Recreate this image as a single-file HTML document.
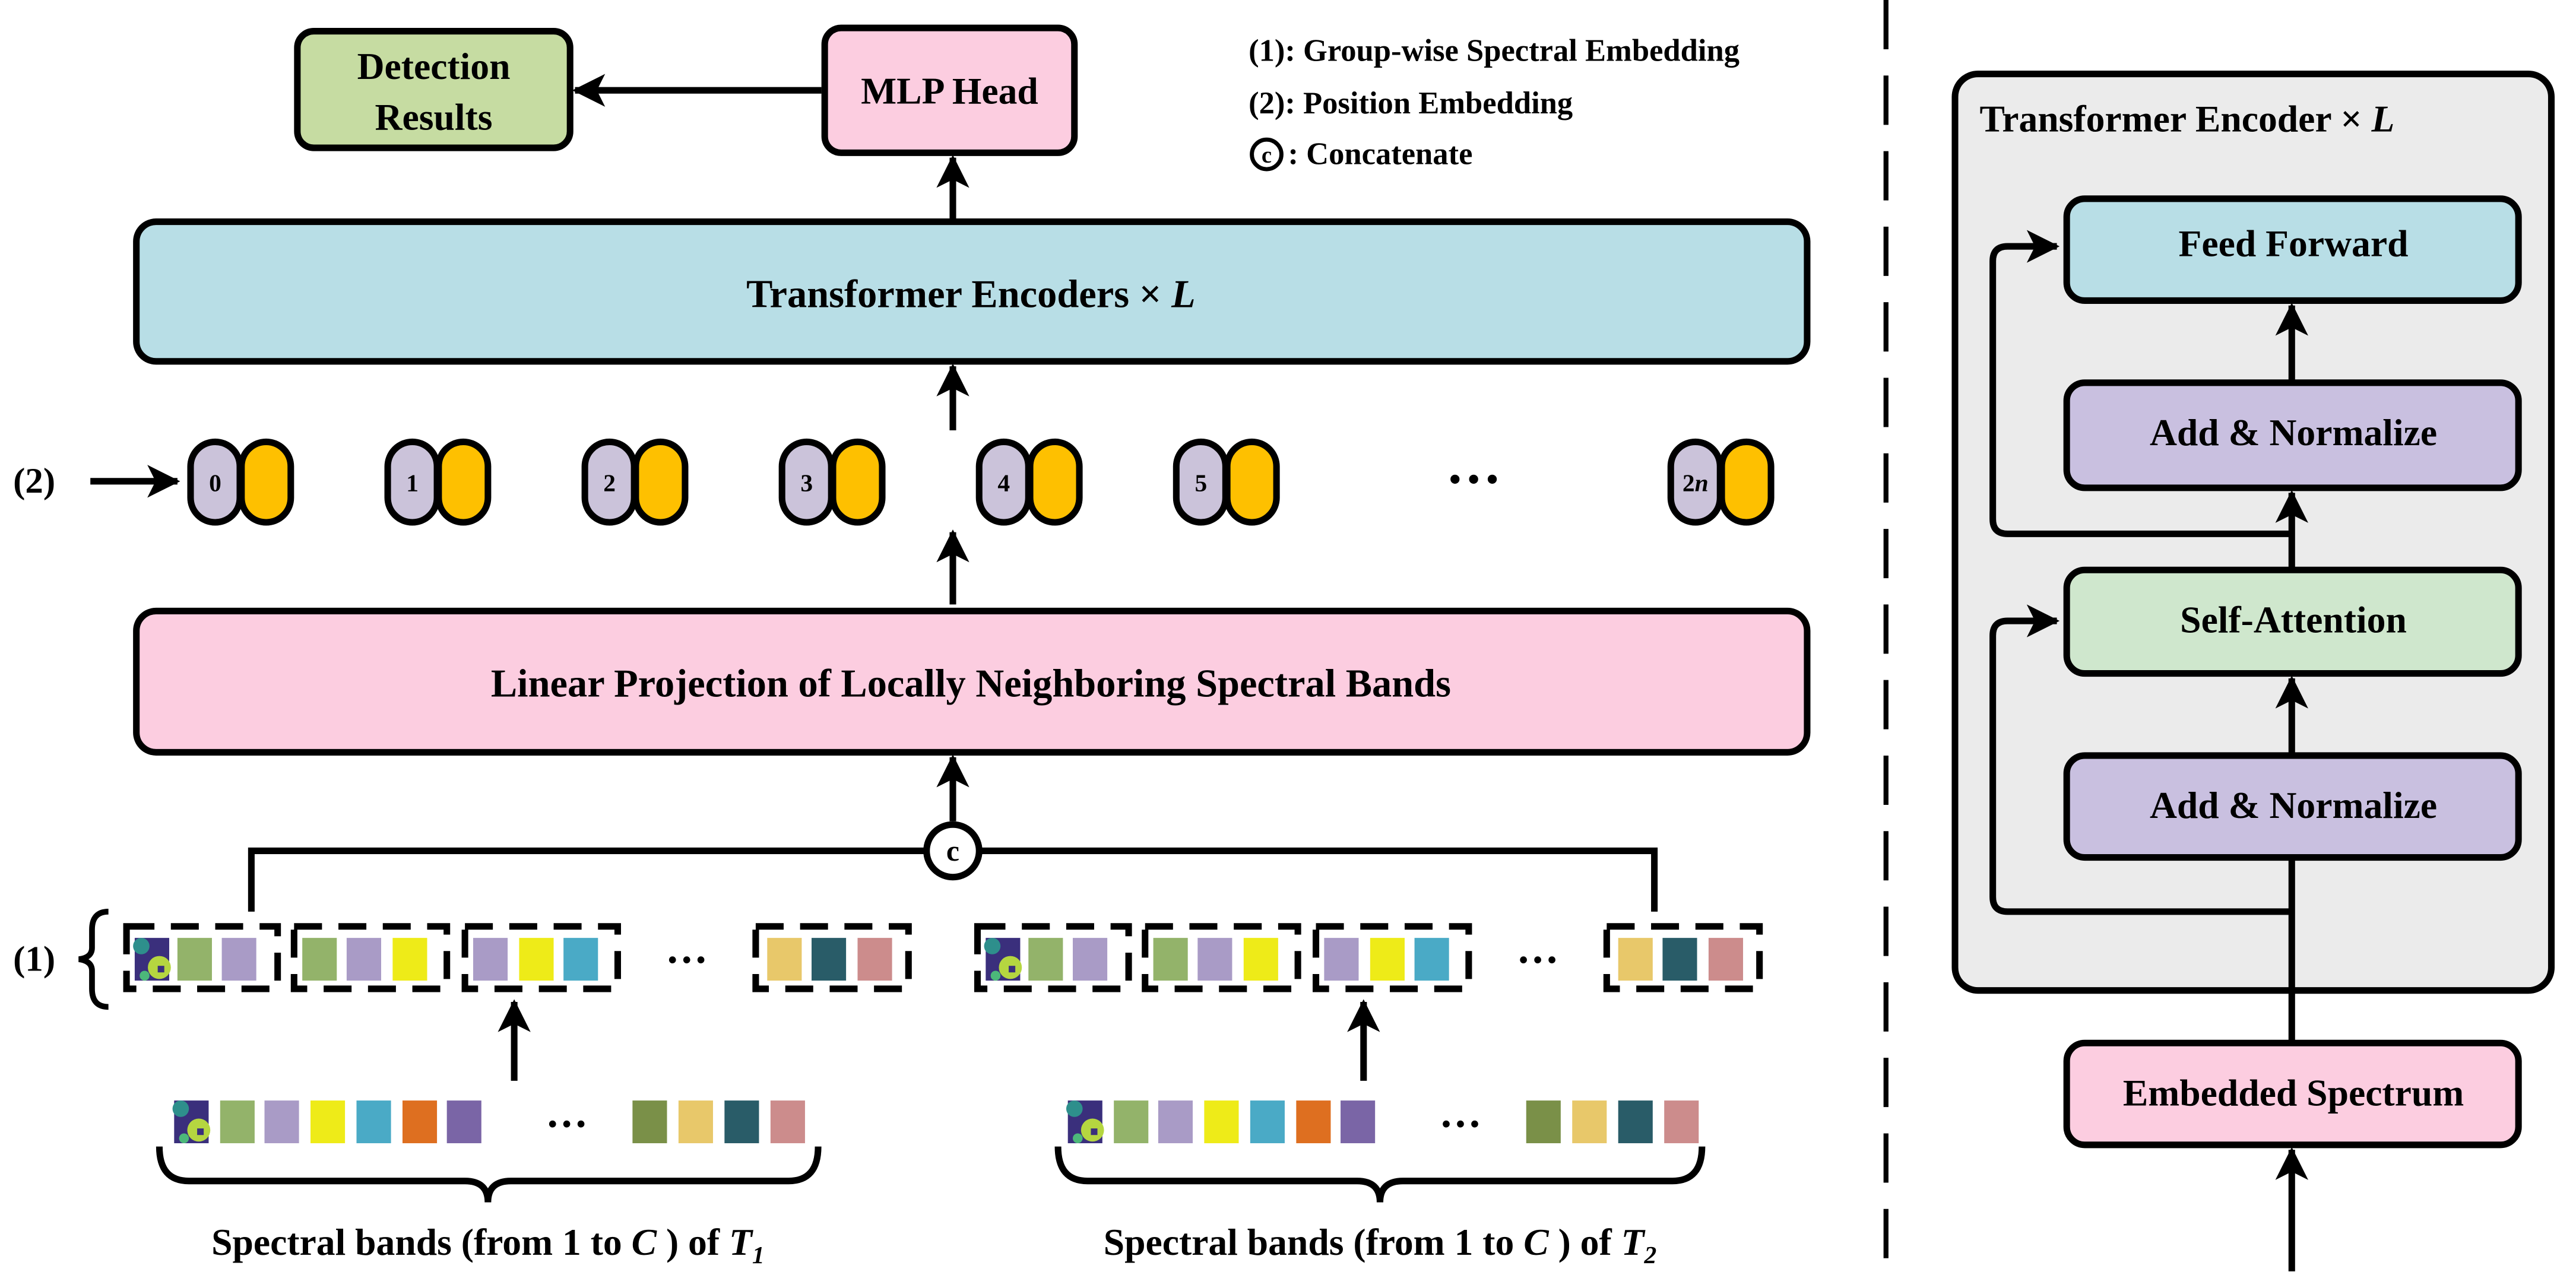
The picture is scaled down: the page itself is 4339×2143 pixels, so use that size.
<!DOCTYPE html>
<html><head><meta charset="utf-8"><style>
html,body{margin:0;padding:0;background:#fff}
svg{display:block}
svg text{font-family:"Liberation Serif","DejaVu Serif",serif;font-weight:bold;fill:#000}
</style></head><body>
<svg width="4339" height="2143" viewBox="0 0 1568 774.4" preserveAspectRatio="none" xmlns="http://www.w3.org/2000/svg" font-family="Liberation Serif, serif">
<defs>
<marker id="ah" viewBox="0 0 12 12" refX="11" refY="6" markerWidth="5" markerHeight="5" markerUnits="strokeWidth" orient="auto">
<path d="M0,0 L12,6 L0,12 L3,6 z" fill="#000"/>
</marker>
<g id="tex"><rect width="21" height="26" fill="#3a2f7c"/><circle cx="15" cy="18" r="7" fill="#b5d640"/><circle cx="4" cy="5" r="5" fill="#2e8f8c"/><rect x="14" y="17" width="4" height="4" fill="#3a2f7c"/><circle cx="6" cy="23" r="3" fill="#4cb87a"/></g>
</defs>
<g stroke="#000" stroke-width="4" stroke-linejoin="round">
<rect x="181" y="19" width="166" height="71" rx="10" fill="#c6dca2"/>
<rect x="502" y="17" width="152" height="76" rx="10" fill="#fccde0"/>
<rect x="83" y="135" width="1017" height="85" rx="12" fill="#b8dee6"/>
<rect x="83" y="372" width="1017" height="86" rx="12" fill="#fccde0"/>
<rect x="1190" y="45" width="363" height="558" rx="14" fill="#ebebeb"/>
<rect x="1258" y="121" width="275" height="62" rx="11" fill="#b8dee6"/>
<rect x="1258" y="233" width="275" height="64" rx="11" fill="#c9c0e0"/>
<rect x="1258" y="347" width="275" height="63" rx="11" fill="#cfe7cd"/>
<rect x="1258" y="460" width="275" height="62" rx="11" fill="#c9c0e0"/>
<rect x="1258" y="635" width="275" height="62" rx="11" fill="#fccde0"/>
</g>
<g stroke="#000" stroke-width="4" fill="none">
<line x1="500" y1="55" x2="350" y2="55" marker-end="url(#ah)"/>
<line x1="580" y1="135" x2="580" y2="96" marker-end="url(#ah)"/>
<line x1="580" y1="262" x2="580" y2="223" marker-end="url(#ah)"/>
<line x1="580" y1="368" x2="580" y2="324" marker-end="url(#ah)"/>
<line x1="580" y1="500" x2="580" y2="461" marker-end="url(#ah)"/>
<line x1="55" y1="293" x2="108" y2="293" marker-end="url(#ah)"/>
<polyline points="153,555 153,518 1007,518 1007,555"/>
<line x1="313" y1="658" x2="313" y2="610" marker-end="url(#ah)"/>
<line x1="830" y1="658" x2="830" y2="610" marker-end="url(#ah)"/>
<line x1="1395" y1="774" x2="1395" y2="700" marker-end="url(#ah)"/>
<line x1="1395" y1="635" x2="1395" y2="522"/>
<line x1="1395" y1="460" x2="1395" y2="413" marker-end="url(#ah)"/>
<line x1="1395" y1="347" x2="1395" y2="300" marker-end="url(#ah)"/>
<line x1="1395" y1="233" x2="1395" y2="186" marker-end="url(#ah)"/>
<path d="M1395,555 H1222 Q1213,555 1213,546 V387 Q1213,378 1222,378 H1252" marker-end="url(#ah)"/>
<path d="M1395,325 H1222 Q1213,325 1213,316 V159 Q1213,150 1222,150 H1252" marker-end="url(#ah)"/>
<line x1="1148" y1="0" x2="1148" y2="774" stroke-width="3" stroke-dasharray="30,16"/>
<path d="M66,555 Q56,555 56,566 V577 Q56,583 48,584 Q56,585 56,591 V602 Q56,613 66,613" stroke-width="3.5"/>
<path d="M97,698 Q97,719 115,719 H283 Q297,719 297,732 Q297,719 311,719 H480 Q498,719 498,698" stroke-width="4"/>
<path d="M644,698 Q644,719 662,719 H826 Q840,719 840,732 Q840,719 854,719 H1018 Q1036,719 1036,698" stroke-width="4"/>
</g>
<circle cx="580" cy="518" r="16" fill="#fff" stroke="#000" stroke-width="4"/>
<text x="580" y="524" font-size="18" text-anchor="middle">c</text>
<g stroke="#000" stroke-width="4" fill="none" stroke-dasharray="17,10">
<rect x="77" y="564" width="92" height="38"/>
<rect x="179" y="564" width="93" height="38"/>
<rect x="283" y="564" width="93" height="38"/>
<rect x="460" y="564" width="93" height="38"/>
<rect x="595" y="564" width="92" height="38"/>
<rect x="697" y="564" width="93" height="38"/>
<rect x="801" y="564" width="93" height="38"/>
<rect x="978" y="564" width="93" height="38"/>
</g>
<g id="g1">
<use href="#tex" x="82" y="571"/>
<rect x="108" y="571" width="21" height="26" fill="#93b36a"/>
<rect x="135" y="571" width="21" height="26" fill="#a99bc6"/>
<rect x="184" y="571" width="21" height="26" fill="#93b36a"/>
<rect x="211" y="571" width="21" height="26" fill="#a99bc6"/>
<rect x="239" y="571" width="21" height="26" fill="#eeeb18"/>
<rect x="288" y="571" width="21" height="26" fill="#a99bc6"/>
<rect x="316" y="571" width="21" height="26" fill="#eeeb18"/>
<rect x="343" y="571" width="21" height="26" fill="#4aaac6"/>
<rect x="467" y="571" width="21" height="26" fill="#e8c86a"/>
<rect x="494" y="571" width="21" height="26" fill="#295c68"/>
<rect x="522" y="571" width="21" height="26" fill="#cc8c8c"/>
<text x="418" y="593" font-size="26" text-anchor="middle">···</text>
</g>
<use href="#g1" x="518"/>
<g id="b1">
<use href="#tex" x="106" y="670"/>
<rect x="134" y="670" width="21" height="26" fill="#93b36a"/>
<rect x="161" y="670" width="21" height="26" fill="#a99bc6"/>
<rect x="189" y="670" width="21" height="26" fill="#eeeb18"/>
<rect x="217" y="670" width="21" height="26" fill="#4aaac6"/>
<rect x="245" y="670" width="21" height="26" fill="#de6f20"/>
<rect x="272" y="670" width="21" height="26" fill="#7a65a6"/>
<rect x="385" y="670" width="21" height="26" fill="#7a9048"/>
<rect x="413" y="670" width="21" height="26" fill="#e8c86a"/>
<rect x="441" y="670" width="21" height="26" fill="#295c68"/>
<rect x="469" y="670" width="21" height="26" fill="#cc8c8c"/>
<text x="345" y="693" font-size="26" text-anchor="middle">···</text>
</g>
<use href="#b1" x="544"/>
<g id="tk" stroke="#000" stroke-width="4">
<rect x="116" y="269" width="30" height="49" rx="15" fill="#cbc3da"/>
<rect x="147" y="269" width="30" height="49" rx="15" fill="#fec000"/>
</g>
<use href="#tk" x="120"/><use href="#tk" x="240"/><use href="#tk" x="360"/><use href="#tk" x="480"/><use href="#tk" x="600"/><use href="#tk" x="901"/>
<g font-size="15" text-anchor="middle">
<text x="131" y="299">0</text><text x="251" y="299">1</text><text x="371" y="299">2</text><text x="491" y="299">3</text><text x="611" y="299">4</text><text x="731" y="299">5</text><text x="1032" y="299">2<tspan font-style="italic">n</tspan></text>
</g>
<text x="897" y="303" font-size="34" text-anchor="middle">···</text>
<g text-anchor="middle" font-size="23">
<text x="264" y="48">Detection</text><text x="264" y="79">Results</text>
<text x="578" y="63">MLP Head</text>
<text x="591" y="187" font-size="24">Transformer Encoders × <tspan font-style="italic">L</tspan></text>
<text x="591" y="424" font-size="24">Linear Projection of Locally Neighboring Spectral Bands</text>
<text x="1396" y="156">Feed Forward</text>
<text x="1396" y="271">Add &amp; Normalize</text>
<text x="1396" y="385">Self-Attention</text>
<text x="1396" y="498">Add &amp; Normalize</text>
<text x="1396" y="673">Embedded Spectrum</text>
<text x="297" y="764">Spectral bands (from 1 to <tspan font-style="italic">C</tspan> ) of <tspan font-style="italic">T</tspan><tspan font-style="italic" font-size="15" dy="5">1</tspan></text>
<text x="840" y="764">Spectral bands (from 1 to <tspan font-style="italic">C</tspan> ) of <tspan font-style="italic">T</tspan><tspan font-style="italic" font-size="15" dy="5">2</tspan></text>
</g>
<text x="1205" y="80" font-size="23">Transformer Encoder × <tspan font-style="italic">L</tspan></text>
<text x="8" y="300" font-size="22">(2)</text>
<text x="8" y="591" font-size="22">(1)</text>
<g font-size="19">
<text x="760" y="37">(1): Group-wise Spectral Embedding</text>
<text x="760" y="69">(2): Position Embedding</text>
<text x="784" y="100">: Concatenate</text>
</g>
<circle cx="771" cy="94" r="9" fill="#fff" stroke="#000" stroke-width="2.5"/>
<text x="771" y="99" font-size="14" text-anchor="middle">c</text>
</svg>
</body></html>
